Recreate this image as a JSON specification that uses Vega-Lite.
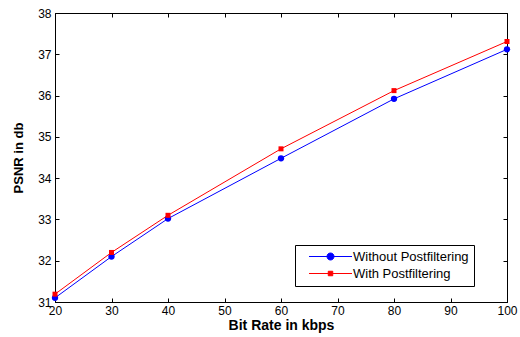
{
  "$schema": "https://vega.github.io/schema/vega-lite/v6.json",
  "width": 452,
  "height": 289,
  "autosize": "none",
  "padding": {"left": 55, "top": 13, "right": 13, "bottom": 35},
  "background": "white",
  "config": {
    "view": {"stroke": "black", "strokeWidth": 1},
    "font": "Liberation Sans",
    "axis": {
      "domainColor": "black",
      "tickColor": "black",
      "labelColor": "black",
      "titleColor": "black",
      "labelFont": "Liberation Sans",
      "titleFont": "Liberation Sans",
      "labelFontSize": 12,
      "titleFontSize": 13,
      "titleFontWeight": "bold",
      "grid": false,
      "tickSize": -4
    },
    "legend": {"labelFont": "Liberation Sans"}
  },
  "data": {
    "values": [
      {"rate": 20, "psnr": 31.1, "series": "Without Postfiltering"},
      {"rate": 30, "psnr": 32.1, "series": "Without Postfiltering"},
      {"rate": 40, "psnr": 33.02, "series": "Without Postfiltering"},
      {"rate": 60, "psnr": 34.48, "series": "Without Postfiltering"},
      {"rate": 80, "psnr": 35.92, "series": "Without Postfiltering"},
      {"rate": 100, "psnr": 37.12, "series": "Without Postfiltering"},
      {"rate": 20, "psnr": 31.19, "series": "With Postfiltering"},
      {"rate": 30, "psnr": 32.2, "series": "With Postfiltering"},
      {"rate": 40, "psnr": 33.1, "series": "With Postfiltering"},
      {"rate": 60, "psnr": 34.71, "series": "With Postfiltering"},
      {"rate": 80, "psnr": 36.12, "series": "With Postfiltering"},
      {"rate": 100, "psnr": 37.31, "series": "With Postfiltering"}
    ]
  },
  "resolve": {"axis": {"x": "independent", "y": "independent"}},
  "layer": [
    {
      "layer": [
        {
          "mark": {"type": "line", "strokeWidth": 1, "clip": false},
          "encoding": {
            "x": {
              "field": "rate", "type": "quantitative",
              "scale": {"domain": [20, 100], "nice": false},
              "axis": {"orient": "bottom", "values": [20, 30, 40, 50, 60, 70, 80, 90, 100], "title": "Bit Rate in kbps", "titleFontSize": 14, "labelPadding": 7, "titlePadding": 2, "labelFlush": false, "labelOverlap": false}
            },
            "y": {
              "field": "psnr", "type": "quantitative",
              "scale": {"domain": [31, 38], "nice": false, "zero": false},
              "axis": {"orient": "left", "values": [31, 32, 33, 34, 35, 36, 37, 38], "title": "PSNR in db", "labelPadding": 8, "titlePadding": 12, "labelFlush": false, "labelOverlap": false}
            },
            "color": {
              "field": "series", "type": "nominal",
              "scale": {"domain": ["Without Postfiltering", "With Postfiltering"], "range": ["#0000FF", "#FF0000"]},
              "legend": {
                "title": null,
                "orient": "none",
                "legendX": 240,
                "legendY": 232,
                "fillColor": "white",
                "strokeColor": "black",
                "padding": 5,
                "labelFontSize": 13,
                "labelColor": "black",
                "symbolSize": 100,
                "symbolOffset": 24,
                "labelOffset": 16,
                "symbolStrokeWidth": 1,
                "rowPadding": 3,
                "encode": {
                  "symbols": {
                    "update": {
                      "shape": {"signal": "datum.value === 'Without Postfiltering' ? 'M-4.3,0H4.3M-0.7,0A0.7,0.7 0 1,1 0.7,0A0.7,0.7 0 1,1 -0.7,0Z' : 'M-4.3,0H4.3M-0.45,-0.45H0.45V0.45H-0.45Z'"},
                      "fill": {"signal": "datum.value === 'Without Postfiltering' ? '#0000FF' : '#FF0000'"},
                      "stroke": {"signal": "datum.value === 'Without Postfiltering' ? '#0000FF' : '#FF0000'"},
                      "opacity": {"value": 1},
                      "fillOpacity": {"value": 1}
                    }
                  }
                }
              }
            }
          }
        },
        {
          "transform": [{"filter": "datum.series === 'Without Postfiltering'"}],
          "mark": {"type": "point", "filled": true, "opacity": 1, "shape": "circle", "size": 40, "color": "#0000FF", "clip": false},
          "encoding": {
            "x": {"field": "rate", "type": "quantitative"},
            "y": {"field": "psnr", "type": "quantitative"}
          }
        },
        {
          "transform": [{"filter": "datum.series === 'With Postfiltering'"}],
          "mark": {"type": "point", "filled": true, "opacity": 1, "shape": "square", "size": 25, "color": "#FF0000", "clip": false},
          "encoding": {
            "x": {"field": "rate", "type": "quantitative"},
            "y": {"field": "psnr", "type": "quantitative"}
          }
        }
      ]
    },
    {
      "mark": {"type": "rule", "opacity": 0},
      "encoding": {
        "x": {"field": "rate", "type": "quantitative", "axis": {"orient": "top", "values": [20, 30, 40, 50, 60, 70, 80, 90, 100], "labels": false, "title": null, "domain": false}},
        "y": {"field": "psnr", "type": "quantitative", "axis": {"orient": "right", "values": [31, 32, 33, 34, 35, 36, 37, 38], "labels": false, "title": null, "domain": false}}
      }
    }
  ]
}
